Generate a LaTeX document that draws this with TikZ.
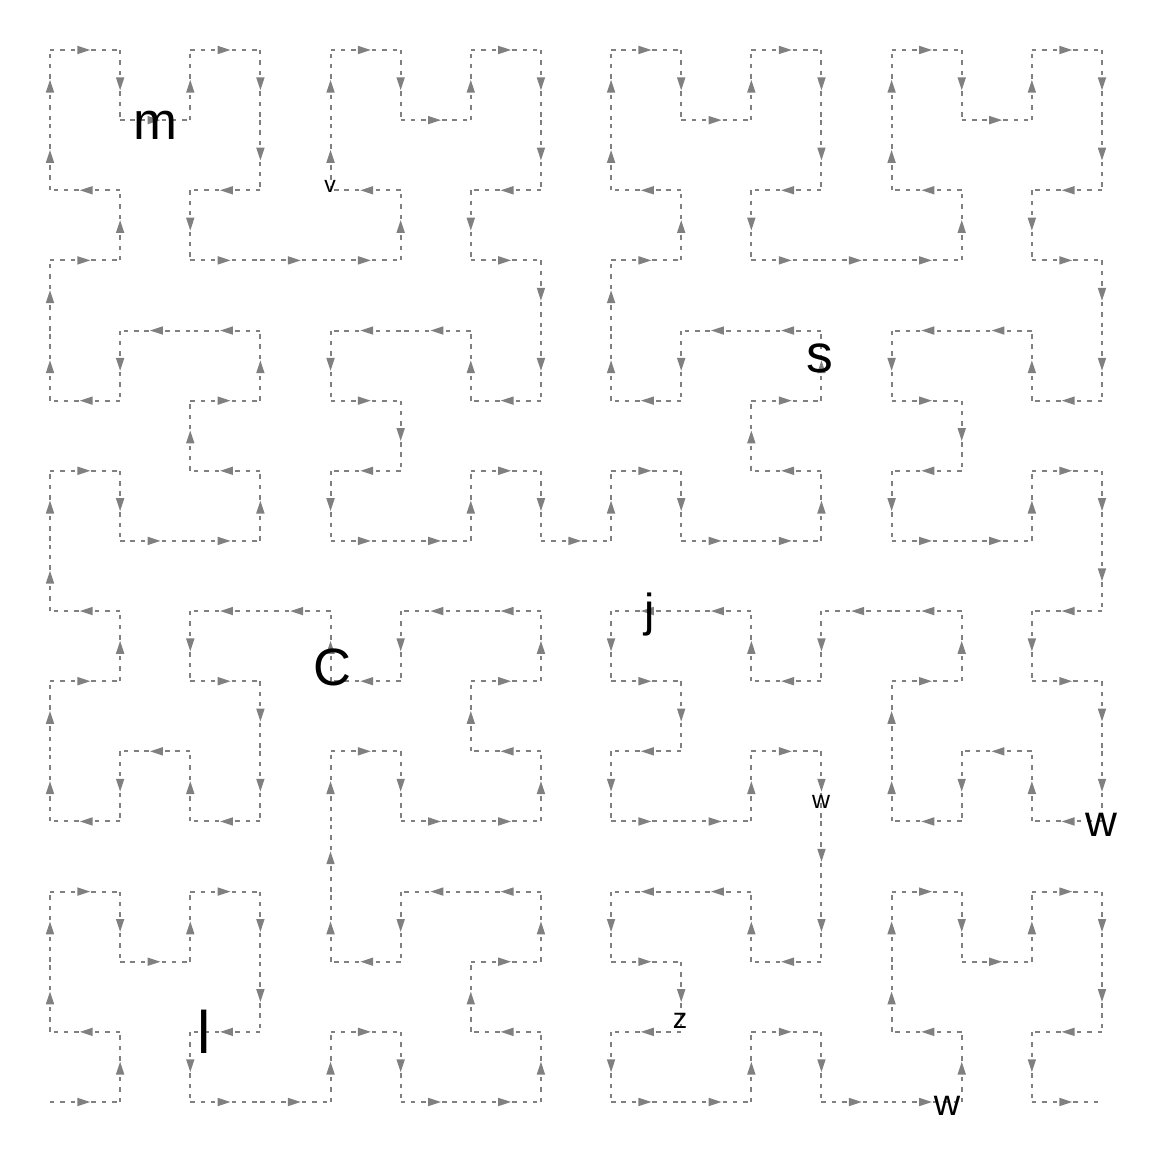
\documentclass[tikz,border=0pt]{standalone}
\usepackage{fontspec}
\setmainfont{Liberation Sans}
\usetikzlibrary{arrows.meta,decorations.markings}

% one step of the index -> cell conversion
\newcommand{\hilstep}[1]{%
  \pgfmathtruncatemacro{\hilrx}{mod(floor(\hilt/2),2)}%
  \pgfmathtruncatemacro{\hilry}{mod(mod(\hilt,2)+\hilrx,2)}%
  \ifnum\hilry=0
    \ifnum\hilrx=1
      \pgfmathtruncatemacro{\hilx}{#1-1-\hilx}%
      \pgfmathtruncatemacro{\hily}{#1-1-\hily}%
    \fi
    \let\hiltmp\hilx \let\hilx\hily \let\hily\hiltmp
  \fi
  \pgfmathtruncatemacro{\hilx}{\hilx+#1*\hilrx}%
  \pgfmathtruncatemacro{\hily}{\hily+#1*\hilry}%
  \pgfmathtruncatemacro{\hilt}{floor(\hilt/4)}%
}
\newcommand{\hilpoint}[1]{%
  \def\hilx{0}\def\hily{0}\pgfmathtruncatemacro{\hilt}{#1}%
  \hilstep{1}\hilstep{2}\hilstep{4}\hilstep{8}%
}

\begin{document}
\begin{tikzpicture}[
    seg/.style={draw=gray, line width=0.8pt, dash pattern=on 1.8pt off 2.4pt,
      postaction={decorate}, decoration={markings,
        mark=at position 0.5 with {\arrow[xshift=2.2pt]{Triangle[length=5.3pt,width=3.2pt]}}}},
    lbl/.style={inner sep=0pt, text=black}]
    \useasboundingbox (-0.713, -0.713) rectangle (15.713, 15.713);
    % curve, one cell step at a time
    \foreach \d in {0,...,254}{
      \pgfmathtruncatemacro{\e}{\d+1}
      \hilpoint{\d}
      \edef\ax{\hilx}\edef\ay{\hily}
      \hilpoint{\e}
      \draw[seg] (\ax, \ay) -- (\hilx, \hily);
    }
    % letters
    \node[lbl, font=\fontsize{21.4}{22}\selectfont] (m) at (1.497, 13.931) {m};
    \node[lbl, font=\fontsize{9.3}{10}\selectfont] (v) at (3.993, 13.061) {v};
    \node[lbl, font=\fontsize{21.7}{22}\selectfont] (s) at (10.980, 10.609) {s};
    \node[lbl, font=\fontsize{18.8}{19}\selectfont] (j) at (8.556, 6.944) {j};
    \node[lbl, font=\fontsize{21.3}{22}\selectfont] (C) at (4.021, 6.203) {C};
    \node[lbl, font=\fontsize{10.1}{11}\selectfont] (w1) at (10.994, 4.278) {w};
    \node[lbl, font=\fontsize{17.9}{18}\selectfont] (w2) at (14.986, 3.950) {w};
    \node[lbl, font=\fontsize{24.3}{25}\selectfont] (l) at (2.196, 0.998) {l};
    \node[lbl, font=\fontsize{11.7}{12}\selectfont] (z) at (8.983, 1.155) {z};
    \node[lbl, font=\fontsize{14.8}{15}\selectfont] (w3) at (12.790, -0.057) {w};
\end{tikzpicture}
\end{document}
